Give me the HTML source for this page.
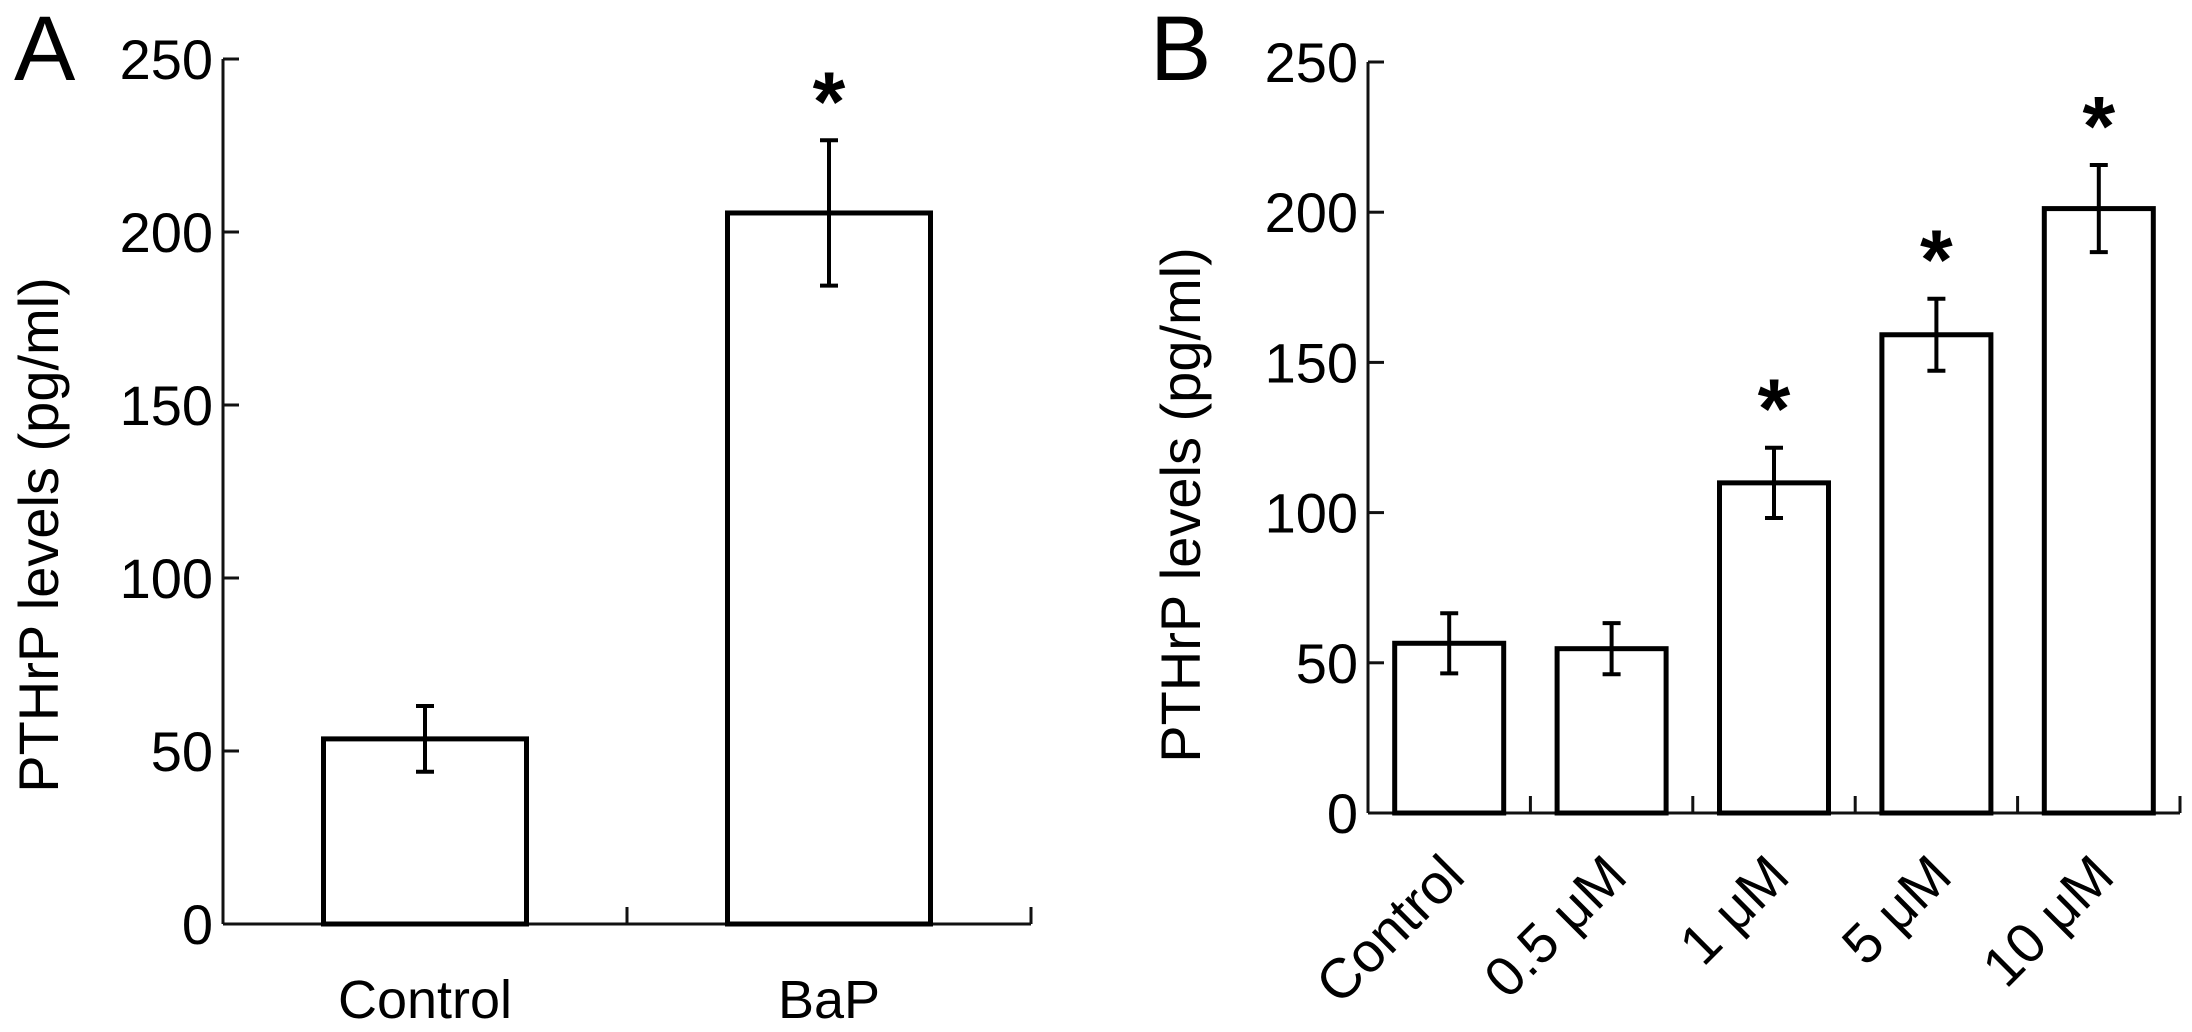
<!DOCTYPE html>
<html><head><meta charset="utf-8"><style>
html,body{margin:0;padding:0;background:#fff;}
svg{display:block;font-family:"Liberation Sans",Arial,sans-serif;}
</style></head><body>
<svg id="fig" width="2192" height="1032" viewBox="0 0 2192 1032" xmlns="http://www.w3.org/2000/svg">
<g id="panelA"></g>
<g id="panelB"></g>
</svg>
<script>
const catsA = ["Control", "BaP"];
const valsA = [53.5, 205.5];
const errA = [9.5, 21];
const sigA = [false, true];
const catsB = ["Control", "0.5 μM", "1 μM", "5 μM", "10 μM"];
const valsB = [56.5, 54.7, 109.9, 159.2, 201.2];
const errB = [10, 8.5, 11.7, 12, 14.5];
const sigB = [false, false, true, true, true];
const ticks = [0, 50, 100, 150, 200, 250];

const NS = "http://www.w3.org/2000/svg";
function mk(parent, tag, attrs, text) {
  const e = document.createElementNS(NS, tag);
  for (const k in attrs) e.setAttribute(k, attrs[k]);
  if (text !== undefined) e.textContent = text;
  parent.appendChild(e);
  return e;
}

function drawPanel(g, cfg, cats, vals, errs, sig) {
  const y = v => cfg.y0 - (v / 250) * (cfg.y0 - cfg.y250);
  const n = cats.length;
  const step = (cfg.xEnd - cfg.xAxis) / n;
  const xc = i => cfg.xAxis + step * (i + 0.5);

  const lab = mk(g, "text", {x: cfg.labX, y: cfg.labY, "font-size": cfg.labSize}, cfg.label);
  
  

  const yt = mk(g, "text", {x: 0, y: 0, "font-size": 56, "text-anchor": "middle",
    transform: `translate(${cfg.titleX},${cfg.titleY}) rotate(-90)`}, "PTHrP levels (pg/ml)");
  
  

  const ya = mk(g, "line", {x1: cfg.xAxis, y1: y(250), x2: cfg.xAxis, y2: y(0), stroke: "#111", "stroke-width": 3});
  
  
  const xa = mk(g, "line", {x1: cfg.xAxis, y1: y(0), x2: cfg.xEnd, y2: y(0), stroke: "#111", "stroke-width": 3});
  
  

  ticks.forEach(t => {
    const tl = mk(g, "line", {x1: cfg.xAxis, y1: y(t), x2: cfg.xAxis + 16, y2: y(t), stroke: "#111", "stroke-width": 3});
    
    
    const tt = mk(g, "text", {x: cfg.xAxis - 10, y: y(t) + 20, "font-size": 56, "text-anchor": "end"}, String(t));
    
    
  });
  for (let i = 1; i <= n; i++) {
    const xt = cfg.xAxis + step * i;
    const tk = mk(g, "line", {x1: xt, y1: y(0), x2: xt, y2: y(0) - 17, stroke: "#111", "stroke-width": 3});
    
    
  }

  cats.forEach((c, i) => {
    const cx = xc(i), bw = cfg.barW;
    const b = mk(g, "rect", {x: cx - bw / 2, y: y(vals[i]), width: bw, height: y(0) - y(vals[i]),
      fill: "#fff", stroke: "#000", "stroke-width": 5});
    
    
    const top = y(vals[i] + errs[i]), bot = y(vals[i] - errs[i]);
    const eg = mk(g, "g", {stroke: "#000", "stroke-width": 4});
    
    
    mk(eg, "line", {x1: cx, y1: top, x2: cx, y2: bot});
    mk(eg, "line", {x1: cx - 9, y1: top, x2: cx + 9, y2: top});
    mk(eg, "line", {x1: cx - 9, y1: bot, x2: cx + 9, y2: bot});
    if (sig[i]) {
      const s = mk(g, "text", {x: cx, y: top - 10, "font-size": 84, "text-anchor": "middle", "font-weight": "bold"}, "*");
      
      
    }
    let xl;
    if (cfg.rotate) {
      xl = mk(g, "text", {x: 0, y: 0, "font-size": 56, "text-anchor": "end",
        transform: `translate(${cx + 18},${y(0) + 66}) rotate(-45)`}, c);
    } else {
      xl = mk(g, "text", {x: cx, y: y(0) + 94, "font-size": 54, "text-anchor": "middle"}, c);
    }
    
    
  });
}

drawPanel(document.getElementById('panelA'),
  {xAxis: 223, xEnd: 1031, y0: 924, y250: 59, barW: 203, label: "A", labX: 14, labY: 80, labSize: 92,
   titleX: 58, titleY: 535, rotate: false}, catsA, valsA, errA, sigA);
drawPanel(document.getElementById('panelB'),
  {xAxis: 1368, xEnd: 2180, y0: 813, y250: 62, barW: 109, label: "B", labX: 1150, labY: 80, labSize: 92,
   titleX: 1200, titleY: 505, rotate: true}, catsB, valsB, errB, sigB);
</script>
</body></html>
